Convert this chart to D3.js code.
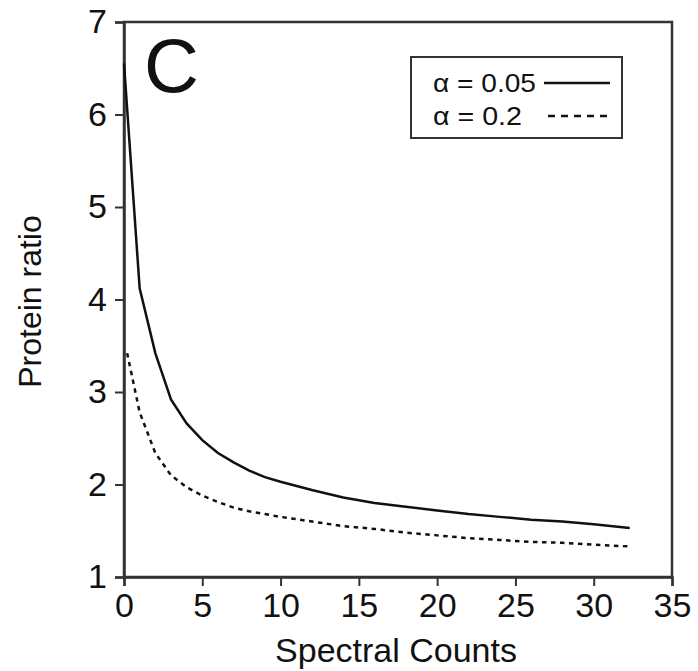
<!DOCTYPE html>
<html><head><meta charset="utf-8">
<script src="https://cdn.jsdelivr.net/npm/d3@7"></script>
<style>body{margin:0;background:#fff}svg{display:block}text{font-family:"Liberation Sans",Arial,sans-serif;fill:#111}</style>
</head><body>
<script>
const xTicks = [0,5,10,15,20,25,30,35];
const yTicks = [1,2,3,4,5,6,7];
const countsA = [0,1,2,3,4,5,6,7,8,9,10,12,14,16,18,20,22,24,26,28,30,32.3];
const ratioA  = [6.55,4.12,3.42,2.92,2.66,2.48,2.34,2.24,2.15,2.08,2.03,1.94,1.86,1.80,1.76,1.72,1.68,1.65,1.62,1.60,1.57,1.53];
const countsB = [0.2,1,2,3,4,5,6,7,8,9,10,12,14,16,18,20,22,24,26,28,30,32.3];
const ratioB  = [3.42,2.78,2.34,2.10,1.97,1.88,1.81,1.75,1.71,1.68,1.65,1.60,1.55,1.52,1.48,1.45,1.42,1.40,1.38,1.37,1.35,1.33];
const legendLabels = ["\u03b1 = 0.05","\u03b1 = 0.2"];

const W=698,H=671, m={l:124,r:26,t:22,b:94};
const svg=d3.select("body").append("svg").attr("width",W).attr("height",H);
const x=d3.scaleLinear().domain([0,35]).range([m.l,W-m.r]);
const y=d3.scaleLinear().domain([1,7]).range([H-m.b,m.t]);
const axisColor="#333";

// frame
svg.append("rect").attr("x",x(0)).attr("y",y(7)).attr("width",x(35)-x(0)).attr("height",y(1)-y(7))
  .attr("fill","none").attr("stroke",axisColor).attr("stroke-width",2.5);

const gx=svg.append("g").attr("transform",`translate(0,${y(1)})`)
  .call(d3.axisBottom(x).tickValues(xTicks).tickSize(9).tickPadding(7).tickFormat(d3.format("d")));
const gy=svg.append("g").attr("transform",`translate(${x(0)},0)`)
  .call(d3.axisLeft(y).tickValues(yTicks).tickSize(9).tickPadding(8).tickFormat(d3.format("d")));
[gx,gy].forEach(g=>{
  g.select(".domain").attr("stroke",axisColor).attr("stroke-width",2.5);
  g.selectAll(".tick line").attr("stroke",axisColor).attr("stroke-width",2);
  g.selectAll(".tick text").attr("font-size",34).attr("fill","#111").attr("font-family","'Liberation Sans',Arial,sans-serif");
});

const line=d3.line().x(d=>x(d[0])).y(d=>y(d[1]));
svg.append("path").datum(countsA.map((c,i)=>[c,ratioA[i]])).attr("d",line)
  .attr("fill","none").attr("stroke","#111").attr("stroke-width",2.5);
svg.append("path").datum(countsB.map((c,i)=>[c,ratioB[i]])).attr("d",line)
  .attr("fill","none").attr("stroke","#111").attr("stroke-width",2.5).attr("stroke-dasharray","4.5,4.5");

// panel letter
svg.append("text").attr("x",144).attr("y",92).attr("font-size",76).text("C");

// legend
svg.append("rect").attr("x",411).attr("y",57).attr("width",211).attr("height",81)
  .attr("fill","#fff").attr("stroke",axisColor).attr("stroke-width",2);
const legendWidths=[103,89];
legendLabels.forEach((t,i)=>{
  const by=92+i*33;
  svg.append("text").attr("x",433).attr("y",by).attr("font-size",26)
    .attr("textLength",legendWidths[i]).attr("lengthAdjust","spacingAndGlyphs").text(t);
  svg.append("line").attr("x1",i?548:544).attr("x2",610).attr("y1",by-9).attr("y2",by-9)
    .attr("stroke","#111").attr("stroke-width",2.5).attr("stroke-dasharray",i?"7,6":null);
});

// axis titles
svg.append("text").attr("x",396).attr("y",662).attr("text-anchor","middle").attr("font-size",34).text("Spectral Counts");
svg.append("text").attr("transform",`translate(41,${(y(1)+y(7))/2+2}) rotate(-90)`).attr("text-anchor","middle").attr("font-size",32).text("Protein ratio");
</script>
</body></html>
